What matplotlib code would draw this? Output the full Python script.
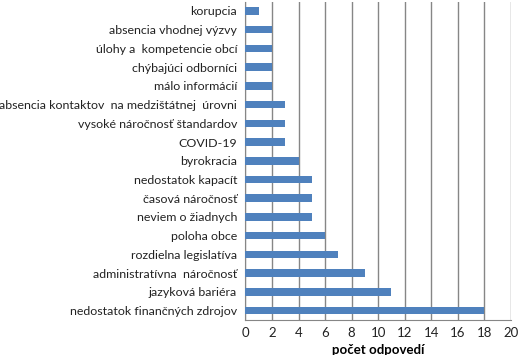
import matplotlib.pyplot as plt

categories = [
    "korupcia",
    "absencia vhodnej výzvy",
    "úlohy a  kompetencie obcí",
    "chýbajúci odborníci",
    "málo informácií",
    "absencia kontaktov  na medzištátnej  úrovni",
    "vysoké náročnosť štandardov",
    "COVID-19",
    "byrokracia",
    "nedostatok kapacít",
    "časová náročnosť",
    "neviem o žiadnych",
    "poloha obce",
    "rozdielna legislatíva",
    "administratívna  náročnosť",
    "jazyková bariéra",
    "nedostatok finančných zdrojov",
]
counts = [1, 2, 2, 2, 2, 3, 3, 3, 4, 5, 5, 5, 6, 7, 9, 11, 18]
xticks = list(range(0, 21, 2))

plt.rcParams["font.family"] = ["Lato", "DejaVu Sans"]

fig = plt.figure(figsize=(5.19, 3.55), dpi=100)
ax = fig.add_axes([0.473, 0.0986, 0.5115, 0.897])

y = list(range(len(categories)))
ax.barh(y, counts, height=0.4, color="#4F81BD", zorder=3)
ax.set_ylim(len(categories) - 0.5, -0.5)
ax.set_xlim(0, 20)
ax.set_xticks(xticks)
ax.set_yticks(y)
ax.set_yticklabels(categories, fontsize=8.9, color="#222222")
ax.tick_params(axis="x", labelsize=9.5, length=0, pad=5, colors="#222222")
ax.tick_params(axis="y", length=0, pad=6)
ax.xaxis.grid(True, color="#868686", linewidth=1)
for side in ["top", "right"]:
    ax.spines[side].set_visible(False)
for side in ["left", "bottom"]:
    ax.spines[side].set_color("#868686")
ax.set_xlabel("počet odpovedí", fontsize=9.5, fontweight="bold", labelpad=4)

fig.savefig("out.png", dpi=100)
